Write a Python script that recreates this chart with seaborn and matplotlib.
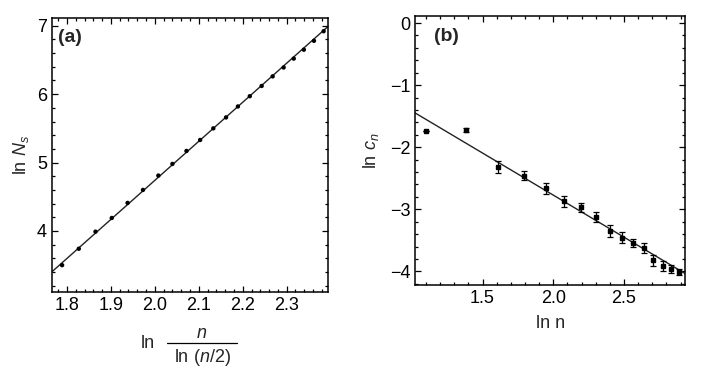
import numpy as np
import matplotlib
matplotlib.use("Agg")
import matplotlib.pyplot as plt
from matplotlib.lines import Line2D
import seaborn as sns

# --- (a) ln N_s vs ln(n/ln(n/2)) ---
a_x = [1.789, 1.827, 1.865, 1.902, 1.938, 1.973, 2.008, 2.040, 2.072, 2.103, 2.133,
       2.162, 2.189, 2.216, 2.243, 2.268, 2.293, 2.316, 2.339, 2.362, 2.384]
a_y = [3.50, 3.74, 3.99, 4.19, 4.41, 4.60, 4.81, 4.98, 5.17, 5.33, 5.50,
       5.66, 5.82, 5.97, 6.12, 6.26, 6.39, 6.52, 6.65, 6.78, 6.92]
a_fit = (-6.68, 5.71)   # intercept, slope

# --- (b) ln c_n vs ln n ---
b_x = [1.099, 1.386, 1.609, 1.792, 1.946, 2.079, 2.197, 2.303, 2.398, 2.485,
       2.565, 2.639, 2.708, 2.773, 2.833, 2.890]
b_y = [-1.745, -1.72, -2.32, -2.46, -2.66, -2.87, -2.97, -3.13, -3.35, -3.46,
       -3.54, -3.63, -3.82, -3.92, -3.96, -4.01]
b_err = [0.0, 0.03, 0.09, 0.07, 0.09, 0.09, 0.075, 0.08, 0.09, 0.09,
         0.065, 0.08, 0.09, 0.08, 0.07, 0.05]
b_fit = (-0.06, -1.356)

sns.set_style("ticks")
plt.rcParams['font.family'] = ['Liberation Sans', 'DejaVu Sans']
plt.rcParams['mathtext.fontset'] = 'custom'
plt.rcParams['mathtext.rm'] = 'Liberation Sans'
plt.rcParams['mathtext.it'] = 'Liberation Sans:italic'
plt.rcParams['font.size'] = 13

fig = plt.figure(figsize=(7.17, 3.8), dpi=100)
ax1 = fig.add_axes([0.0725, 0.232, 0.385, 0.720])
ax2 = fig.add_axes([0.579, 0.250, 0.377, 0.709])


def style_axis(ax):
    for s in ax.spines.values():
        s.set_linewidth(1.1)
        s.set_color('black')
    ax.tick_params(which='both', direction='in', top=True, right=True,
                   labelsize=13, colors='black', width=0.9)
    ax.tick_params(which='major', length=4)
    ax.tick_params(which='minor', length=2.2)


# 左パネル
sns.scatterplot(x=a_x, y=a_y, ax=ax1, color='black', s=10, edgecolor='none', zorder=3)
ax1.axline((0, a_fit[0]), slope=a_fit[1], color='#222222', lw=1.0)
ax1.set_xlim(1.766, 2.394)
ax1.set_ylim(3.11, 7.11)
ax1.set_xticks([1.8, 1.9, 2.0, 2.1, 2.2, 2.3])
ax1.set_xticklabels(['1.8', '1.9', '2.0', '2.1', '2.2', '2.3'])
ax1.set_xticks(np.arange(1.78, 2.395, 0.02), minor=True)
ax1.set_yticks([4, 5, 6, 7])
ax1.set_yticks(np.arange(3.2, 7.11, 0.2), minor=True)
style_axis(ax1)
ax1.set_ylabel(r'ln $\mathit{N}_s$', fontsize=13, labelpad=4)
ax1.text(0.02, 0.96, '(a)', transform=ax1.transAxes, fontsize=14,
         fontweight='bold', va='top', ha='left')

# x軸ラベル (分数) を手組み
fig.text(148 / 717, 1 - 344 / 380, 'ln', fontsize=13, ha='center', va='center')
fig.text(202 / 717, 1 - 333 / 380, r'$\mathit{n}$', fontsize=13, ha='center', va='center')
fig.text(202 / 717, 1 - 358 / 380, r'ln ($\mathit{n}$/2)', fontsize=13, ha='center', va='center')
fig.add_artist(Line2D([167 / 717, 237 / 717], [1 - 343 / 380, 1 - 343 / 380],
                      color='black', lw=0.9, transform=fig.transFigure))

# 右パネル
ax2.errorbar(b_x, b_y, yerr=b_err, fmt='s', ms=2.2, color='black',
             ecolor='black', elinewidth=0.9, capsize=2, capthick=0.9, zorder=3)
ax2.axline((0, b_fit[0]), slope=b_fit[1], color='#222222', lw=1.0)
ax2.set_xlim(1.024, 2.934)
ax2.set_ylim(-4.22, 0.12)
ax2.set_xticks([1.5, 2.0, 2.5])
ax2.set_xticklabels(['1.5', '2.0', '2.5'])
ax2.set_xticks(np.arange(1.1, 2.94, 0.1), minor=True)
ax2.set_yticks([0, -1, -2, -3, -4])
ax2.set_yticklabels(['0', '\u22121', '\u22122', '\u22123', '\u22124'])
ax2.set_yticks(np.arange(-4.2, 0.11, 0.2), minor=True)
style_axis(ax2)
ax2.set_ylabel(r'ln $\mathit{c}_\mathit{n}$', fontsize=13, labelpad=6)
ax2.set_xlabel('ln n', fontsize=13, labelpad=6)
ax2.text(0.07, 0.955, '(b)', transform=ax2.transAxes, fontsize=14,
         fontweight='bold', va='top', ha='left')

fig.savefig('out.png', dpi=100)
